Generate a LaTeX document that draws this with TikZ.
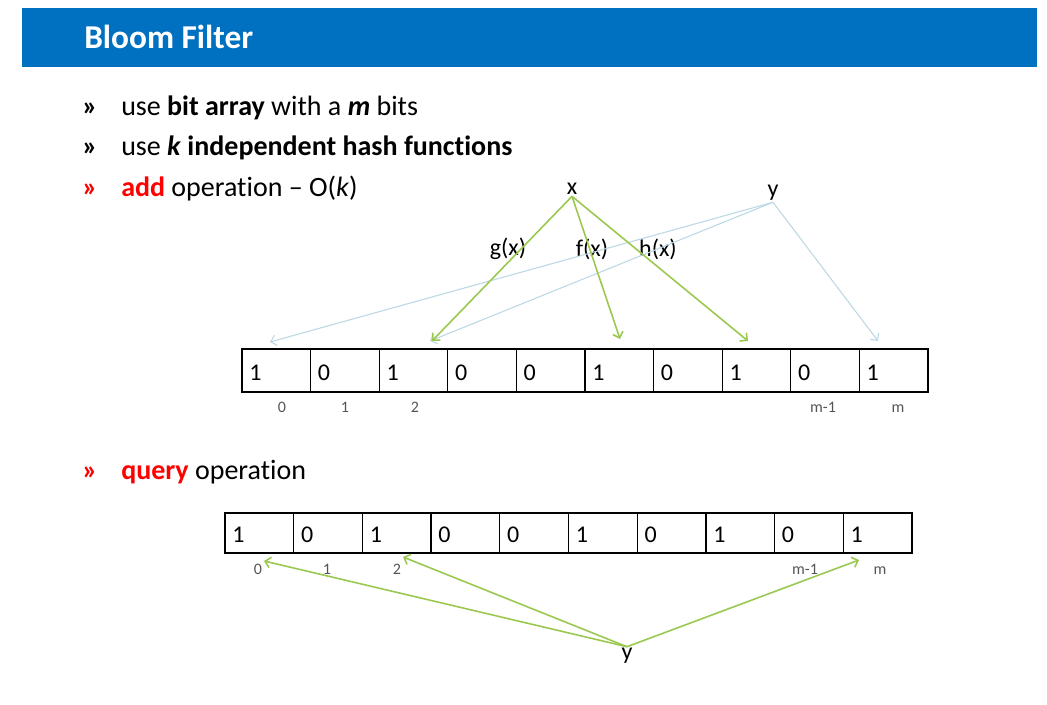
\documentclass[tikz,border=0pt]{standalone}
\usepackage{fontspec}
\setmainfont{Carlito}[Ligatures=NoCommon]
\usetikzlibrary{arrows.meta}
\definecolor{barblue}{RGB}{0,112,192}
\definecolor{hashgreen}{RGB}{155,200,80}
\definecolor{hashblue}{RGB}{188,216,228}
\definecolor{idxgray}{RGB}{85,85,85}
\tikzset{
	txt/.style={anchor=base west, inner sep=0pt, font=\fontsize{21}{25}\selectfont},
	cell/.style={draw, line width=0.9pt, minimum width=51.5pt, text width=40.5pt, text height=15pt, text depth=0pt, inner xsep=5.5pt, inner ysep=0pt, align=left, font=\fontsize{18}{20}\selectfont},
	idx/.style={text=idxgray, inner sep=0pt, text height=8pt, text depth=0pt, font=\fontsize{12}{14}\selectfont},
	key/.style={inner sep=1pt, font=\fontsize{18}{20}\selectfont},
	hashlabel/.style={inner sep=0pt, font=\fontsize{18}{20}\selectfont},
	greenarrow/.style={draw=hashgreen, line width=1.2pt, -{Straight Barb[length=4pt,width=8pt]}},
	bluearrow/.style={draw=hashblue, line width=0.8pt, -{Straight Barb[length=4pt,width=8pt]}}
}
\begin{document}
\begin{tikzpicture}[x=0.75pt,y=-0.75pt]
	\useasboundingbox(0,0)rectangle(1047,705);
	% 見出し
	\fill[barblue](22,8)rectangle(1037,67);
	\node[anchor=base west, inner sep=0pt, text=white, font=\fontsize{25}{30}\selectfont\bfseries](title)at(84,49){Bloom Filter};

	\node[txt](b1)at(82,116){\textbf{»}};
	\node[txt](l1)at(121,116){use \textbf{bit array} with a \textbf{\textit{m}} bits};
	\node[txt](b2)at(82,156){\textbf{»}};
	\node[txt](l2)at(121,156){use \textbf{\textit{k}} \textbf{independent hash functions}};
	\node[txt, text=red](b3)at(82,197){\textbf{»}};
	\node[txt](l3)at(121,197){\textcolor{red}{\textbf{add}} operation – O(\textit{k})};
	\node[txt, text=red](b4)at(82,480){\textbf{»}};
	\node[txt](l4)at(121,480){\textcolor{red}{\textbf{query}} operation};

	% add
	\foreach \b[count=\i] in {1,0,1,0,0,1,0,1,0,1}
		\node[cell, minimum height=32.25pt](u\i)at({242+68.6*(\i-0.5)},370.5){\b};
	\node[idx]at(282,407){0};
	\node[idx]at(345,407){1};
	\node[idx]at(415,407){2};
	\node[idx]at(823,407){m-1};
	\node[idx]at(898,407){m};

	\node[key](x)at(572,189){x};
	\node[key](yu)at(773,193){y};
	\draw(508,249)node[hashlabel]{g(x)};
	\draw(592,249)node[hashlabel]{f(x)};
	\draw(658,249)node[hashlabel]{h(x)};

	\coordinate(g)at(432,341);
	\coordinate(f)at(620,339);
	\coordinate(h)at(748,341);
	\coordinate(p)at(270,342);
	\coordinate(q)at(430,341);
	\coordinate(r)at(878,341);

	\draw[bluearrow](yu.south)--(p);
	\draw[bluearrow](yu.south)--(q);
	\draw[bluearrow](yu.south)--(r);
	\draw[greenarrow](x.south)--(g);
	\draw[greenarrow](x.south)--(f);
	\draw[greenarrow](x.south)--(h);

	% query
	\foreach \b[count=\i] in {1,0,1,0,0,1,0,1,0,1}
		\node[cell, minimum height=30pt](v\i)at({225+68.7*(\i-0.5)},533){\b};
	\node[idx]at(258,569){0};
	\node[idx]at(327,569){1};
	\node[idx]at(397,569){2};
	\node[idx]at(805,569){m-1};
	\node[idx]at(880,569){m};

	\node[key](yl)at(627,656){y};
	\coordinate(s)at(264,561);
	\coordinate(t)at(403,557);
	\coordinate(w)at(859,560);
	\draw[greenarrow](yl.north)--(s);
	\draw[greenarrow](yl.north)--(t);
	\draw[greenarrow](yl.north)--(w);
\end{tikzpicture}
\end{document}
